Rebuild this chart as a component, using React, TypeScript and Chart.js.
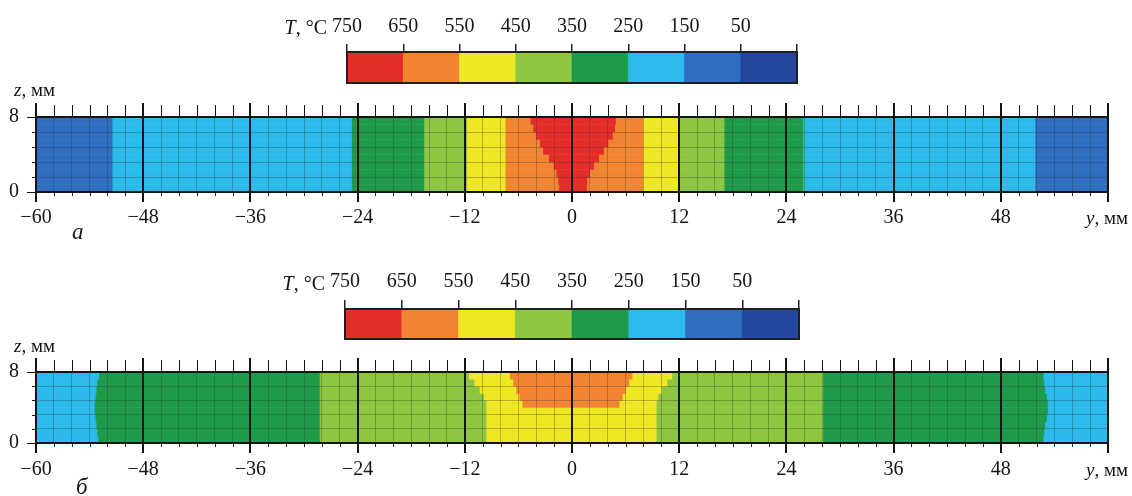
import React, { useEffect, useRef } from 'react';
import { Chart, registerables } from 'chart.js';

Chart.register(...registerables);
Chart.defaults.font.family = '"Liberation Serif", serif';

// ---- data ----
// temperature bands: 750-650, 650-550, 550-450, 450-350, 350-250, 250-150, 150-50, <50
const BAND_COLORS = ['#e42d29', '#f08431', '#efe624', '#8dc641', '#1f9a4a', '#2cb9ec', '#2f6ec0', '#23479c'];
const LEVELS = [750, 650, 550, 450, 350, 250, 150, 50, -50];
const X_TICK_STEP = 2;
const X_LABEL_STEP = 12;
const Z_TICK_STEP = 1.6;
// centres of the mesh rows (z, mm), bottom to top
const Z_ROWS = [0.4, 1.2, 2.0, 2.8, 3.6, 4.4, 5.2, 6.0, 6.8, 7.6];

// panel а: band index left -> right, and the y (mm) boundaries between bands for every row
const BANDS_A: number[][] = Z_ROWS.map(() => [6, 5, 4, 3, 2, 1, 0, 1, 2, 3, 4, 5, 6]);
const EDGES_A: number[][] = [
  [-51.4, -24.6, -16.5, -11.7, -7.4, -1.4, 1.7, 8.0, 12.1, 17.1, 25.9, 51.9],
  [-51.4, -24.6, -16.5, -11.7, -7.4, -1.5, 1.75, 8.0, 12.1, 17.1, 25.9, 51.9],
  [-51.4, -24.6, -16.5, -11.7, -7.4, -1.7, 2.05, 8.0, 12.1, 17.1, 25.9, 51.9],
  [-51.4, -24.6, -16.5, -11.7, -7.4, -2.0, 2.5, 8.0, 12.1, 17.1, 25.9, 51.9],
  [-51.4, -24.6, -16.5, -11.7, -7.4, -2.55, 3.05, 8.0, 12.1, 17.1, 25.9, 51.9],
  [-51.4, -24.6, -16.5, -11.7, -7.4, -3.2, 3.6, 8.0, 12.1, 17.1, 25.9, 51.9],
  [-51.4, -24.6, -16.5, -11.7, -7.4, -3.55, 4.1, 8.0, 12.1, 17.1, 25.9, 51.9],
  [-51.4, -24.6, -16.5, -11.7, -7.4, -4.0, 4.6, 8.0, 12.1, 17.1, 25.9, 51.9],
  [-51.4, -24.6, -16.5, -11.7, -7.4, -4.3, 4.85, 8.0, 12.1, 17.1, 25.9, 51.9],
  [-51.4, -24.6, -16.5, -11.7, -7.4, -4.6, 4.95, 8.0, 12.1, 17.1, 25.9, 51.9],
];

// panel б
const BANDS_B: number[][] = [
  [5, 4, 3, 2, 3, 4, 5],
  [5, 4, 3, 2, 3, 4, 5],
  [5, 4, 3, 2, 3, 4, 5],
  [5, 4, 3, 2, 3, 4, 5],
  [5, 4, 3, 2, 3, 4, 5],
  [5, 4, 3, 2, 1, 2, 3, 4, 5],
  [5, 4, 3, 2, 1, 2, 3, 4, 5],
  [5, 4, 3, 2, 1, 2, 3, 4, 5],
  [5, 4, 3, 2, 1, 2, 3, 4, 5],
  [5, 4, 3, 2, 1, 2, 3, 4, 5],
];
const EDGES_B: number[][] = [
  [-53.0, -28.2, -9.55, 9.5, 28.15, 52.8],
  [-53.1, -28.2, -9.55, 9.5, 28.15, 52.9],
  [-53.2, -28.2, -9.55, 9.5, 28.15, 53.0],
  [-53.3, -28.2, -9.55, 9.5, 28.15, 53.2],
  [-53.4, -28.2, -9.55, 9.5, 28.15, 53.3],
  [-53.4, -28.2, -9.55, -5.5, 5.35, 9.5, 28.15, 53.3],
  [-53.3, -28.2, -9.8, -5.85, 5.7, 9.7, 28.15, 53.2],
  [-53.2, -28.2, -10.3, -6.2, 6.05, 10.1, 28.15, 53.0],
  [-53.1, -28.2, -10.9, -6.55, 6.45, 10.7, 28.15, 52.9],
  [-52.9, -28.2, -11.5, -6.9, 6.8, 11.25, 28.15, 52.8],
];

const Y_MIN = -60;
const Y_MAX = 60;
const Z_MIN = 0;
const Z_MAX = 8;

const INK = '#141414';
const MINOR_GRID = 'rgba(50,50,50,0.3)';
const FONT = { size: 20, family: '"Liberation Serif", serif' };

function isMult(v: number, step: number) {
  const r = Math.abs(v / step - Math.round(v / step));
  return r < 1e-6;
}

const heatFrame = {
  id: 'heatFrame',
  afterDraw(chart: any) {
    const { ctx, chartArea: a } = chart;
    const xs = chart.scales.x;
    const ys = chart.scales.y;
    ctx.save();
    ctx.strokeStyle = INK;
    ctx.lineWidth = 1;
    ctx.beginPath();
    xs.ticks.forEach((t: any) => {
      const px = Math.round(xs.getPixelForValue(t.value)) + 0.5;
      const major = isMult(t.value, X_LABEL_STEP);
      ctx.moveTo(px, a.top - (major ? 14 : 12));
      ctx.lineTo(px, a.top);
      ctx.moveTo(px, a.bottom);
      ctx.lineTo(px, a.bottom + (major ? 10 : 4));
    });
    ys.ticks.forEach((t: any) => {
      const py = Math.round(ys.getPixelForValue(t.value)) + 0.5;
      const major = Math.abs(t.value - Z_MIN) < 1e-6 || Math.abs(t.value - Z_MAX) < 1e-6;
      ctx.moveTo(a.left - (major ? 9 : 4), py);
      ctx.lineTo(a.left, py);
    });
    ctx.stroke();
    ctx.lineWidth = 2;
    ctx.beginPath();
    xs.ticks.forEach((t: any) => {
      if (!isMult(t.value, X_LABEL_STEP)) return;
      const px = Math.round(xs.getPixelForValue(t.value));
      ctx.moveTo(px, a.top - 14);
      ctx.lineTo(px, a.bottom + 10);
    });
    ctx.stroke();
    ctx.strokeRect(a.left, a.top, a.right - a.left, a.bottom - a.top);
    ctx.restore();
  },
};

const barFrame = {
  id: 'barFrame',
  afterDraw(chart: any) {
    const { ctx, chartArea: a } = chart;
    ctx.save();
    ctx.strokeStyle = '#202020';
    ctx.lineWidth = 2;
    ctx.strokeRect(a.left, a.top, a.right - a.left, a.bottom - a.top);
    ctx.restore();
  },
};

function makeColorbar(canvas: HTMLCanvasElement, pad: { left: number; right: number; bottom: number }, axisH: number, tickLen: number, labelPad: number) {
  const segs = BAND_COLORS.map((_, i) => ({ x: [LEVELS[i + 1], LEVELS[i]], y: 'T' }));
  return new Chart(canvas, {
    type: 'bar',
    data: {
      labels: ['T'],
      datasets: [{ data: segs as any, backgroundColor: BAND_COLORS, borderWidth: 0, barPercentage: 1, categoryPercentage: 1 }],
    },
    options: {
      indexAxis: 'y',
      responsive: false,
      animation: false,
      events: [],
      layout: { padding: { left: pad.left, right: pad.right, top: 0, bottom: pad.bottom } },
      plugins: { legend: { display: false }, tooltip: { enabled: false }, title: { display: false } },
      scales: {
        y: { display: false, offset: true },
        x: {
          type: 'linear',
          position: 'top',
          min: LEVELS[LEVELS.length - 1],
          max: LEVELS[0],
          reverse: true,
          afterFit: (s: any) => { s.height = axisH; },
          border: { display: false },
          grid: { drawOnChartArea: false, drawTicks: true, tickLength: tickLen, color: '#202020', lineWidth: 1.5 },
          ticks: {
            stepSize: 100,
            autoSkip: false,
            maxRotation: 0,
            padding: labelPad,
            color: INK,
            font: FONT,
            callback: (v: any) => (v === LEVELS[LEVELS.length - 1] ? '' : String(v)),
          },
        },
      },
    },
    plugins: [barFrame],
  });
}

function makeHeat(canvas: HTMLCanvasElement, bands: number[][], edges: number[][], padTop: number, axisH: number, labelPad: number) {
  const data: any[] = [];
  const colors: string[] = [];
  Z_ROWS.forEach((z, r) => {
    const b = [Y_MIN, ...edges[r], Y_MAX];
    bands[r].forEach((band, i) => {
      data.push({ x: [b[i], b[i + 1]], y: z });
      colors.push(BAND_COLORS[band]);
    });
  });
  return new Chart(canvas, {
    type: 'bar',
    data: { datasets: [{ data, backgroundColor: colors, borderWidth: 0, barPercentage: 1, categoryPercentage: 1 }] },
    options: {
      indexAxis: 'y',
      responsive: false,
      animation: false,
      events: [],
      layout: { padding: { left: 0, right: 24, top: padTop, bottom: 0 } },
      plugins: { legend: { display: false }, tooltip: { enabled: false }, title: { display: false } },
      scales: {
        x: {
          type: 'linear',
          min: Y_MIN,
          max: Y_MAX,
          afterFit: (s: any) => { s.height = axisH; },
          border: { display: false },
          grid: { drawTicks: false, color: MINOR_GRID, lineWidth: 1, z: 1 },
          ticks: {
            stepSize: X_TICK_STEP,
            autoSkip: false,
            maxRotation: 0,
            padding: labelPad,
            color: INK,
            font: FONT,
            callback: (v: any) => {
              if (!isMult(v, X_LABEL_STEP) || v === Y_MAX) return '';
              return v < 0 ? '\u2212' + Math.abs(v) : String(v);
            },
          },
        },
        y: {
          type: 'linear',
          min: Z_MIN,
          max: Z_MAX,
          offset: false,
          afterFit: (s: any) => { s.width = 36; },
          border: { display: false },
          grid: { drawTicks: false, color: MINOR_GRID, lineWidth: 1, offset: false, z: 1 },
          ticks: {
            stepSize: Z_TICK_STEP,
            autoSkip: false,
            padding: 17,
            color: INK,
            font: FONT,
            callback: (v: any) => (Math.abs(v - Z_MIN) < 1e-6 || Math.abs(v - Z_MAX) < 1e-6 ? String(Math.round(v)) : ''),
          },
        },
      },
    },
    plugins: [heatFrame],
  });
}

const abs = (extra: React.CSSProperties): React.CSSProperties => ({
  position: 'absolute',
  whiteSpace: 'nowrap',
  color: INK,
  lineHeight: '24px',
  ...extra,
});

export default function App() {
  const cbA = useRef<HTMLCanvasElement>(null);
  const cbB = useRef<HTMLCanvasElement>(null);
  const hA = useRef<HTMLCanvasElement>(null);
  const hB = useRef<HTMLCanvasElement>(null);

  useEffect(() => {
    const charts = [
      makeHeat(hA.current!, BANDS_A, EDGES_A, 117, 56, 14),
      makeHeat(hB.current!, BANDS_B, EDGES_B, 124, 53, 15),
      makeColorbar(cbA.current!, { left: 347, right: 1132 - 797, bottom: 17 }, 52, 8, 5),
      makeColorbar(cbB.current!, { left: 345, right: 1132 - 799, bottom: 9 }, 61, 9, 6),
    ];
    return () => charts.forEach((c) => c.destroy());
  }, []);

  const cv = (top: number, h: number): React.CSSProperties => ({ position: 'absolute', left: 0, top, width: 1132, height: h });

  return (
    <div style={{ position: 'absolute', left: 0, top: 0, width: 1132, height: 496, background: '#ffffff', overflow: 'hidden', fontFamily: '"Liberation Serif", serif' }}>
      <canvas ref={hA} width={1132} height={248} style={cv(0, 248)} />
      <canvas ref={hB} width={1132} height={248} style={cv(248, 248)} />
      <canvas ref={cbA} width={1132} height={100} style={cv(0, 100)} />
      <canvas ref={cbB} width={1132} height={100} style={cv(248, 100)} />

      <span style={abs({ right: 1132 - 327, top: 15, fontSize: 20 })}><i>T</i>, °C</span>
      <span style={abs({ right: 1132 - 325, top: 271, fontSize: 20 })}><i>T</i>, °C</span>

      <span style={abs({ left: 14, top: 78, fontSize: 19 })}><i>z</i>, мм</span>
      <span style={abs({ left: 14, top: 334, fontSize: 19 })}><i>z</i>, мм</span>

      <span style={abs({ right: 4, top: 206, fontSize: 19 })}><i>y</i>, мм</span>
      <span style={abs({ right: 4, top: 458, fontSize: 19 })}><i>y</i>, мм</span>

      <span style={abs({ left: 72, top: 220, fontSize: 23, fontStyle: 'italic' })}>а</span>
      <span style={abs({ left: 76, top: 475, fontSize: 23, fontStyle: 'italic' })}>б</span>
    </div>
  );
}
